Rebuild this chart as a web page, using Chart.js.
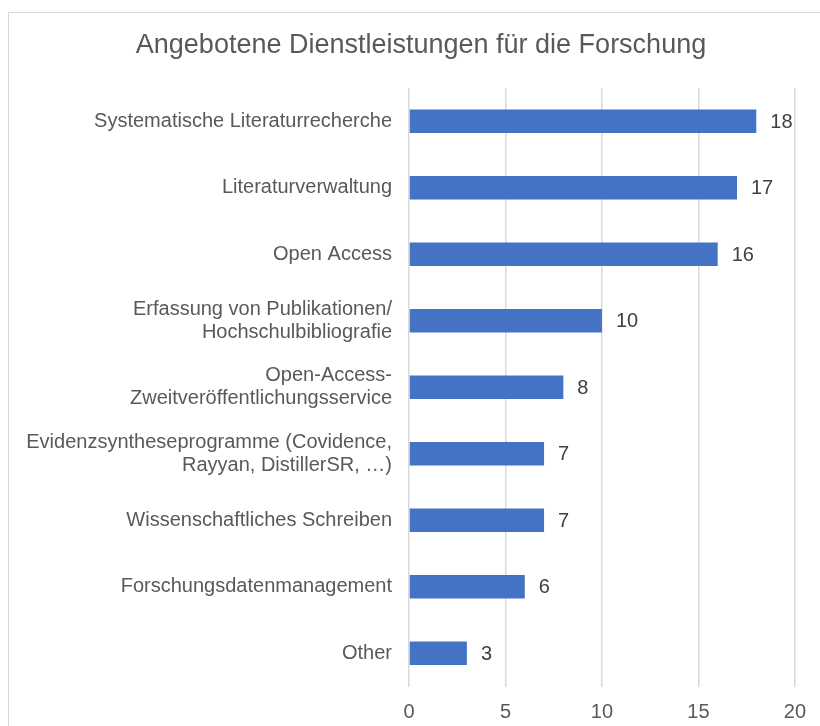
<!DOCTYPE html>
<html>
<head>
<meta charset="utf-8">
<script src="https://cdn.jsdelivr.net/npm/chart.js@4/dist/chart.umd.min.js"></script>
<style>
  html, body { margin: 0; padding: 0; background: #fff; }
  #wrap { position: relative; width: 820px; height: 726px; overflow: hidden; }
  #frame { position: absolute; left: 8px; top: 12px; width: 840px; height: 760px; border: 1px solid #d9d9d9; box-sizing: border-box; }
  #c { position: absolute; left: 0; top: 0; }
</style>
</head>
<body>
<div id="wrap">
  <div id="frame"></div>
  <canvas id="c" width="820" height="726"></canvas>
</div>
<script>
// ── Angebotene Dienstleistungen – horizontal bars ──
const chartTitle = 'Angebotene Dienstleistungen für die Forschung';
const categories = [
  'Systematische Literaturrecherche',
  'Literaturverwaltung',
  'Open Access',
  ['Erfassung von Publikationen/', 'Hochschulbibliografie'],
  ['Open-Access-', 'Zweitveröffentlichungsservice'],
  ['Evidenzsyntheseprogramme (Covidence,', 'Rayyan, DistillerSR, …)'],
  'Wissenschaftliches Schreiben',
  'Forschungsdatenmanagement',
  'Other'
];
const counts = [18, 17, 16, 10, 8, 7, 7, 6, 3];
const xTicks = [0, 5, 10, 15, 20];

const FONT = '"Liberation Sans", Arial, sans-serif';

// title centred on the frame, not on the canvas
const titlePlugin = {
  id: 'titlePlugin',
  afterDraw(chart) {
    const ctx = chart.ctx;
    ctx.save();
    ctx.font = '27px ' + FONT;
    ctx.fillStyle = '#595959';
    ctx.textAlign = 'center';
    ctx.textBaseline = 'middle';
    ctx.fillText(chartTitle, 421, 46);
    ctx.restore();
  }
};

// value labels at bar ends
const valueLabels = {
  id: 'valueLabels',
  afterDatasetsDraw(chart) {
    const ctx = chart.ctx;
    const meta = chart.getDatasetMeta(0);
    ctx.save();
    ctx.font = '20px ' + FONT;
    ctx.fillStyle = '#404040';
    ctx.textAlign = 'left';
    ctx.textBaseline = 'middle';
    meta.data.forEach((bar, i) => {
      ctx.fillText(String(counts[i]), bar.x + 14, bar.y + 1);
    });
    ctx.restore();
  }
};

new Chart(document.getElementById('c').getContext('2d'), {
  type: 'bar',
  data: {
    labels: categories,
    datasets: [{ data: counts, backgroundColor: '#4472c4', borderWidth: 0, categoryPercentage: 1, barPercentage: 0.354 }]
  },
  options: {
    indexAxis: 'y',
    responsive: false,
    animation: false,
    layout: { padding: { top: 88, right: 24, bottom: 3, left: 0 } },
    plugins: {
      legend: { display: false },
      tooltip: { enabled: false },
      title: { display: false }
    },
    scales: {
      x: {
        min: 0, max: 20,
        afterBuildTicks: s => { s.ticks = xTicks.map(v => ({ value: v })); },
        afterFit: s => { s.height = 36.5; },
        grid: { color: '#d9d9d9', lineWidth: 1.5, drawTicks: false },
        border: { display: false },
        ticks: { color: '#595959', font: { family: FONT, size: 20 }, padding: 14 }
      },
      y: {
        afterFit: s => { s.width = 409; },
        grid: { display: false, drawTicks: false },
        border: { display: false },
        ticks: { color: '#595959', font: { family: FONT, size: 20, lineHeight: 1.13 }, padding: 17 }
      }
    }
  },
  plugins: [valueLabels, titlePlugin]
});
</script>
</body>
</html>
